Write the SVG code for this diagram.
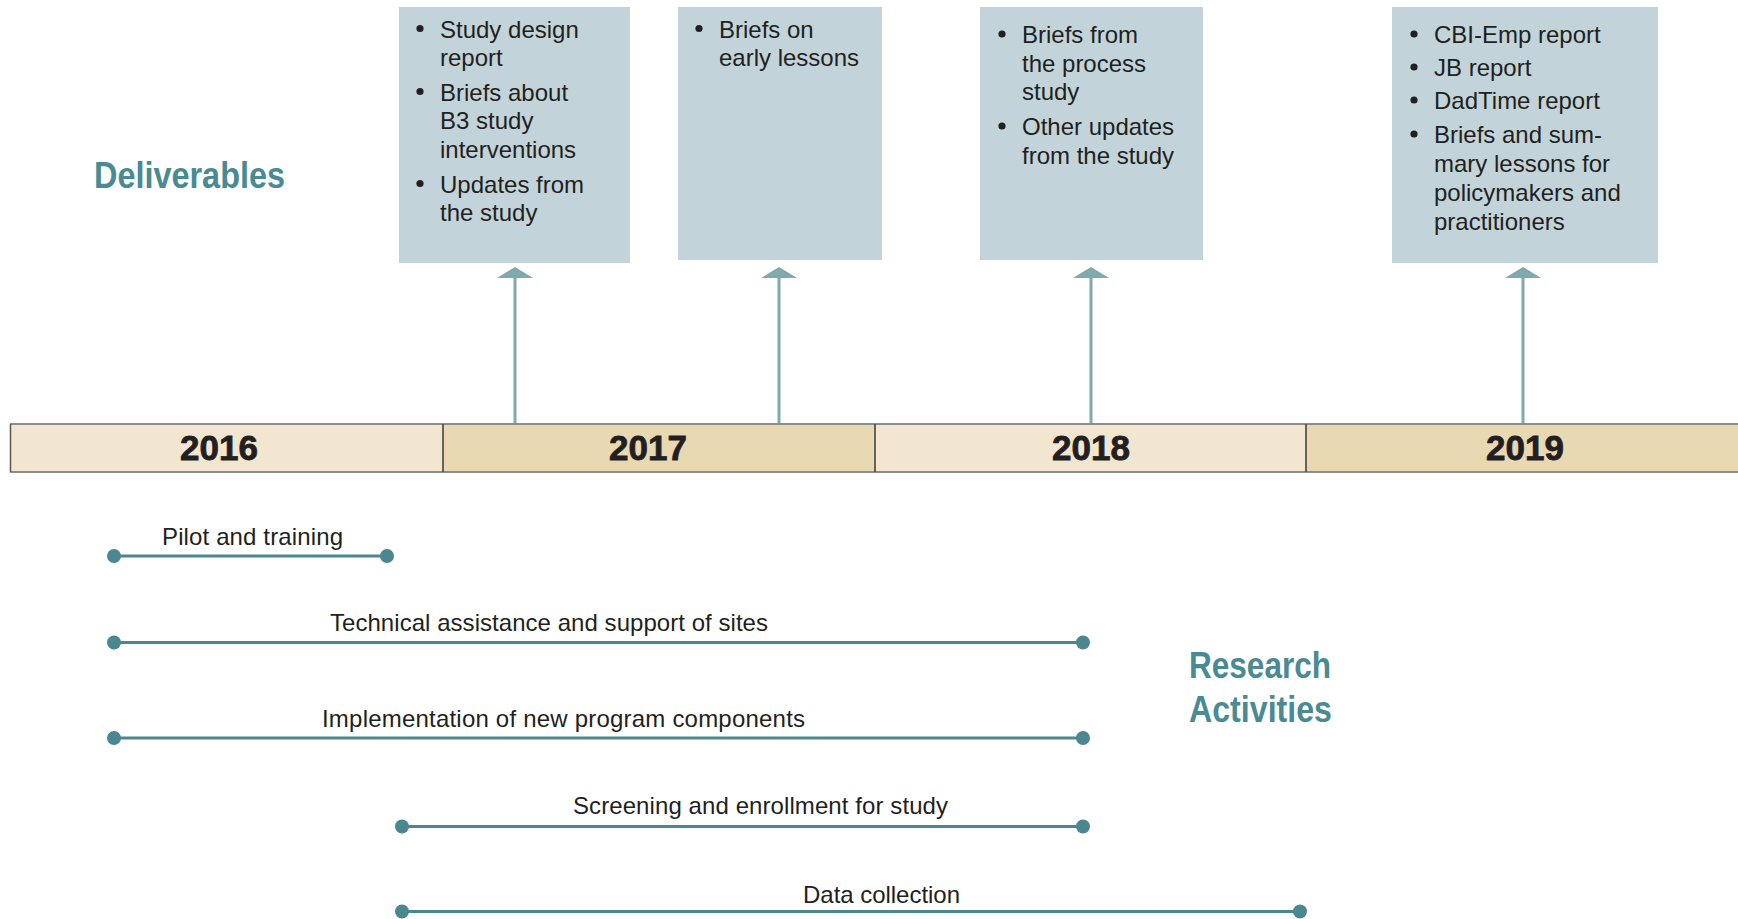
<svg xmlns="http://www.w3.org/2000/svg" width="1738" height="919" viewBox="0 0 1738 919">
<style>
.box{fill:#c2d4d9}
.bt{font-family:"Liberation Sans",Arial,sans-serif;font-size:24px;fill:#231f20}
.bul{fill:#231f20}
.yr{font-family:"Liberation Sans",Arial,sans-serif;font-size:35px;font-weight:bold;fill:#231f20;stroke:#231f20;stroke-width:0.8;text-anchor:middle}
.hd{font-family:"Liberation Sans",Arial,sans-serif;font-size:37px;font-weight:bold;fill:#4a8a92}
.al{font-family:"Liberation Sans",Arial,sans-serif;font-size:24px;fill:#231f20}
.seg1{fill:#f2e6d0}
.seg2{fill:#e9d9b3}
.arr{stroke:#7ea9ad;stroke-width:3;fill:none}
.ah{fill:#7ea9ad}
.act{stroke:#4a8790;stroke-width:3}
.dot{fill:#4a8790}
</style>
<rect width="1738" height="919" fill="#ffffff"/>

<text class="hd" x="94" y="188" textLength="191" lengthAdjust="spacingAndGlyphs">Deliverables</text>
<text class="hd" x="1189" y="678" textLength="142" lengthAdjust="spacingAndGlyphs">Research</text>
<text class="hd" x="1189" y="722" textLength="143" lengthAdjust="spacingAndGlyphs">Activities</text>

<g id="box2016">
<rect class="box" x="399" y="7" width="231" height="256"/>
<circle class="bul" cx="420" cy="28.5" r="3.6"/>
<circle class="bul" cx="420" cy="91.5" r="3.6"/>
<circle class="bul" cx="420" cy="183.5" r="3.6"/>
<text class="bt" x="440" y="37.5">Study design</text>
<text class="bt" x="440" y="66">report</text>
<text class="bt" x="440" y="100.5">Briefs about</text>
<text class="bt" x="440" y="129">B3 study</text>
<text class="bt" x="440" y="157.5">interventions</text>
<text class="bt" x="440" y="192.5">Updates from</text>
<text class="bt" x="440" y="221">the study</text>
</g>

<g id="box2017">
<rect class="box" x="678" y="7" width="204" height="253"/>
<circle class="bul" cx="699" cy="28.5" r="3.6"/>
<text class="bt" x="719" y="37.5">Briefs on</text>
<text class="bt" x="719" y="66">early lessons</text>
</g>

<g id="box2018">
<rect class="box" x="980" y="7" width="223" height="253"/>
<circle class="bul" cx="1002" cy="34" r="3.6"/>
<circle class="bul" cx="1002" cy="126" r="3.6"/>
<text class="bt" x="1022" y="43">Briefs from</text>
<text class="bt" x="1022" y="71.5">the process</text>
<text class="bt" x="1022" y="100">study</text>
<text class="bt" x="1022" y="135">Other updates</text>
<text class="bt" x="1022" y="163.5">from the study</text>
</g>

<g id="box2019">
<rect class="box" x="1392" y="7" width="266" height="256"/>
<circle class="bul" cx="1414" cy="34" r="3.6"/>
<circle class="bul" cx="1414" cy="67" r="3.6"/>
<circle class="bul" cx="1414" cy="100" r="3.6"/>
<circle class="bul" cx="1414" cy="134" r="3.6"/>
<text class="bt" x="1434" y="43">CBI-Emp report</text>
<text class="bt" x="1434" y="76">JB report</text>
<text class="bt" x="1434" y="109">DadTime report</text>
<text class="bt" x="1434" y="143">Briefs and sum-</text>
<text class="bt" x="1434" y="171.5">mary lessons for</text>
<text class="bt" x="1434" y="200.5">policymakers and</text>
<text class="bt" x="1434" y="229.5">practitioners</text>
</g>

<g id="timeline">
<rect class="seg1" x="10" y="424" width="433" height="48"/>
<rect class="seg2" x="443" y="424" width="432" height="48"/>
<rect class="seg1" x="875" y="424" width="431" height="48"/>
<rect class="seg2" x="1306" y="424" width="432" height="48"/>
<line x1="10" y1="424" x2="1738" y2="424" stroke="#8c8c8c" stroke-width="2"/>
<line x1="10" y1="472" x2="1738" y2="472" stroke="#8c8c8c" stroke-width="2"/>
<line x1="10.5" y1="424" x2="10.5" y2="472" stroke="#555" stroke-width="1.5"/>
<line x1="443" y1="424" x2="443" y2="472" stroke="#3a3a3a" stroke-width="1.5"/>
<line x1="875" y1="424" x2="875" y2="472" stroke="#3a3a3a" stroke-width="1.5"/>
<line x1="1306" y1="424" x2="1306" y2="472" stroke="#3a3a3a" stroke-width="1.5"/>
<text class="yr" x="219" y="460">2016</text>
<text class="yr" x="648" y="460">2017</text>
<text class="yr" x="1091" y="460">2018</text>
<text class="yr" x="1525" y="460">2019</text>
</g>

<g id="connectors">
<line class="arr" x1="515" y1="423" x2="515" y2="274"/>
<polygon class="ah" points="497,278 515,267 533,278"/>
<line class="arr" x1="779" y1="423" x2="779" y2="274"/>
<polygon class="ah" points="761,278 779,267 797,278"/>
<line class="arr" x1="1091" y1="423" x2="1091" y2="274"/>
<polygon class="ah" points="1073,278 1091,267 1109,278"/>
<line class="arr" x1="1523" y1="423" x2="1523" y2="274"/>
<polygon class="ah" points="1505,278 1523,267 1541,278"/>
</g>

<g id="act-pilot">
<line class="act" x1="114" y1="556" x2="387" y2="556"/>
<circle class="dot" cx="114" cy="556" r="7"/>
<circle class="dot" cx="387" cy="556" r="7"/>
<text class="al" x="162" y="545" textLength="181">Pilot and training</text>
</g>
<g id="act-ta">
<line class="act" x1="114" y1="642.5" x2="1083" y2="642.5"/>
<circle class="dot" cx="114" cy="642.5" r="7"/>
<circle class="dot" cx="1083" cy="642.5" r="7"/>
<text class="al" x="330" y="630.5" textLength="438">Technical assistance and support of sites</text>
</g>
<g id="act-impl">
<line class="act" x1="114" y1="738" x2="1083" y2="738"/>
<circle class="dot" cx="114" cy="738" r="7"/>
<circle class="dot" cx="1083" cy="738" r="7"/>
<text class="al" x="322" y="726.5" textLength="483">Implementation of new program components</text>
</g>
<g id="act-screen">
<line class="act" x1="402" y1="826.5" x2="1083" y2="826.5"/>
<circle class="dot" cx="402" cy="826.5" r="7"/>
<circle class="dot" cx="1083" cy="826.5" r="7"/>
<text class="al" x="573" y="813.5" textLength="375">Screening and enrollment for study</text>
</g>
<g id="act-data">
<line class="act" x1="402" y1="911.5" x2="1300" y2="911.5"/>
<circle class="dot" cx="402" cy="911.5" r="7"/>
<circle class="dot" cx="1300" cy="911.5" r="7"/>
<text class="al" x="803" y="902.5" textLength="157">Data collection</text>
</g>
</svg>
